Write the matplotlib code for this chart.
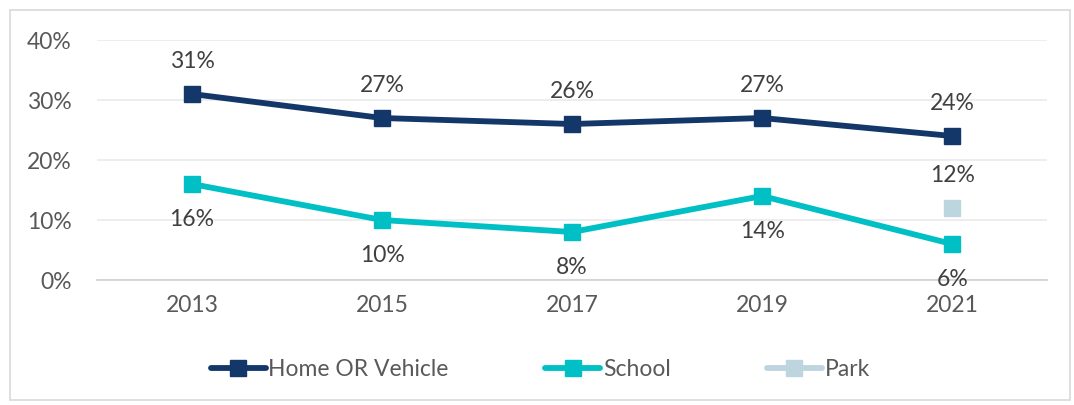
import matplotlib.pyplot as plt
from matplotlib.patches import Rectangle

years = ['2013', '2015', '2017', '2019', '2021']
home_vehicle = [31, 27, 26, 27, 24]
school = [16, 10, 8, 14, 6]
park = [None, None, None, None, 12]

navy = '#14376A'
teal = '#00C0C6'
pale = '#BDD5DF'

plt.rcParams['font.family'] = ['Lato', 'DejaVu Sans']

fig = plt.figure(figsize=(10.74, 4.05), dpi=100)
# thin grey frame round the whole chart
fig.patches.append(Rectangle((0.009, 0.012), 0.987, 0.963, transform=fig.transFigure,
                             fill=False, edgecolor='#D9D9D9', linewidth=1.2))
ax = fig.add_axes([0.0903, 0.3086, 0.8847, 0.5926])

x = list(range(len(years)))
ax.plot(x, home_vehicle, color=navy, lw=4.2, marker='s', ms=11, label='Home OR Vehicle',
        solid_capstyle='round', zorder=3)
ax.plot(x, school, color=teal, lw=4.2, marker='s', ms=11, label='School',
        solid_capstyle='round', zorder=3)
park_x = [i for i, v in zip(x, park) if v is not None]
park_y = [v for v in park if v is not None]
ax.plot(park_x, park_y, color=pale, lw=4.2, marker='s', ms=11, label='Park',
        solid_capstyle='round', zorder=3)

fs = 16.5
for i, v in zip(x, home_vehicle):
    ax.annotate(f'{v}%', (i, v), xytext=(0, 16), textcoords='offset points',
                ha='center', va='bottom', fontsize=fs, color='#404040')
for i, v in zip(x, school):
    ax.annotate(f'{v}%', (i, v), xytext=(0, -18), textcoords='offset points',
                ha='center', va='top', fontsize=fs, color='#404040')
for i, v in zip(park_x, park_y):
    ax.annotate(f'{v}%', (i, v), xytext=(0, 16), textcoords='offset points',
                ha='center', va='bottom', fontsize=fs, color='#404040')

ax.set_xlim(-0.5, 4.5)
ax.set_ylim(0, 40)
ax.set_yticks([0, 10, 20, 30, 40])
ax.set_yticklabels([f'{t}%' for t in [0, 10, 20, 30, 40]])
ax.set_xticks(x)
ax.set_xticklabels(years)
ax.tick_params(length=0, labelsize=fs, labelcolor='#595959')
ax.tick_params(axis='y', pad=18)
ax.tick_params(axis='x', pad=11)
ax.grid(axis='y', color='#EAEAEA', lw=1.2, zorder=0)
for s in ['top', 'right', 'left']:
    ax.spines[s].set_visible(False)
ax.spines['bottom'].set_color('#D0D0D0')
ax.spines['bottom'].set_linewidth(1.2)

fig.legend(loc='center', bbox_to_anchor=(0.503, 0.087), ncol=3, frameon=False,
           fontsize=fs, handlelength=2.4, handletextpad=0.12, columnspacing=4.2,
           labelcolor='#595959')

fig.savefig('out.png', dpi=100)
